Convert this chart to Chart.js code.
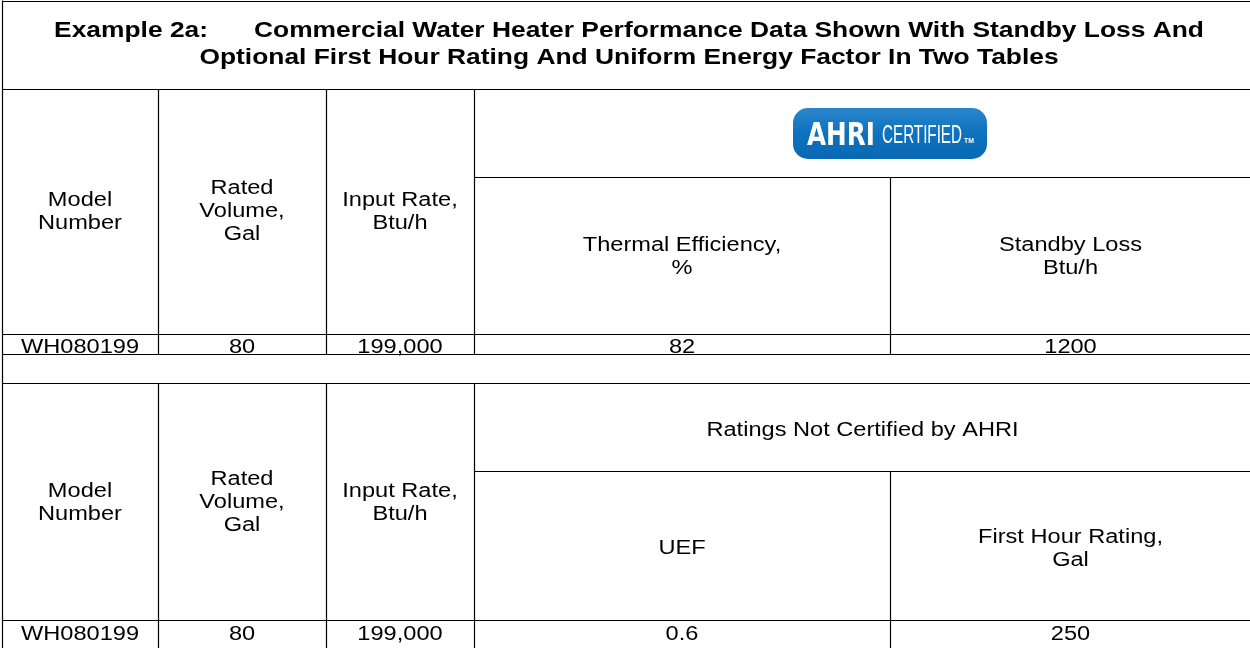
<!DOCTYPE html>
<html>
<head>
<meta charset="utf-8">
<script src="https://cdn.jsdelivr.net/npm/chart.js@4.4.1/dist/chart.umd.min.js"></script>
<style>
  html, body { margin: 0; padding: 0; background: #fff; }
  #wrap { width: 1250px; height: 648px; }
</style>
</head>
<body>
<div id="wrap"><canvas id="c" width="1250" height="648"></canvas></div>
<script>
// ---------- DATA ----------
const titleLabel = 'Example 2a:';
const titleLines = [
  'Commercial Water Heater Performance Data Shown With Standby Loss And',
  'Optional First Hour Rating And Uniform Energy Factor In Two Tables'
];
const commonHeaders = [['Model', 'Number'], ['Rated', 'Volume,', 'Gal'], ['Input Rate,', 'Btu/h']];
const table1Group = 'AHRI CERTIFIED';
const table1Headers = [['Thermal Efficiency,', '%'], ['Standby Loss', 'Btu/h']];
const table1Row = ['WH080199', '80', '199,000', '82', '1200'];
const table2Group = 'Ratings Not Certified by AHRI';
const table2Headers = [['UEF'], ['First Hour Rating,', 'Gal']];
const table2Row = ['WH080199', '80', '199,000', '0.6', '250'];

// ---------- LAYOUT (grid in scale units) ----------
const colEdges = [2, 158, 326, 474, 890, 1251];
const Y = { top: 0.5, title: 89, sub1: 177, head1: 334, row1: 354, gap: 383, sub2: 471, head2: 620, end: 660 };

const FONT = '"Liberation Sans", Arial, sans-serif';
const SX = 1.21;          // horizontal stretch of text
const BODY = 19.5, LH = 23;
const TITLE = 21.8, TLH = 27.5, TAB = 46;

function setFont(ctx, size, bold) { ctx.font = (bold ? 'bold ' : '') + size + 'px ' + FONT; }
function txt(ctx, s, x, cy, size, bold, sx, align) {
  ctx.save();
  setFont(ctx, size, bold);
  ctx.textAlign = align || 'center';
  ctx.textBaseline = 'alphabetic';
  ctx.fillStyle = '#000';
  ctx.translate(x, cy + size * 0.716 / 2);
  ctx.scale(sx, 1);
  ctx.fillText(s, 0, 0);
  ctx.restore();
}
function width(ctx, s, size, bold, sx) {
  ctx.save(); setFont(ctx, size, bold); const w = ctx.measureText(s).width * sx; ctx.restore(); return w;
}
function block(ctx, lines, x, cy, size, lh, bold, sx) {
  const n = lines.length;
  lines.forEach((l, i) => txt(ctx, l, x, cy + (i - (n - 1) / 2) * lh, size, bold, sx));
}

const tablePlugin = {
  id: 'tablePlugin',
  afterDraw(chart) {
    const ctx = chart.ctx;
    const xs = chart.scales.x, ys = chart.scales.y;
    const X = v => xs.getPixelForValue(v);
    const YY = v => ys.getPixelForValue(v);
    const px = v => Math.round(X(v)) + 0.5;
    const py = v => Math.round(YY(v)) + 0.5;
    const span = (a, b) => (X(colEdges[a]) + X(colEdges[b])) / 2;
    const cx = i => span(i, i + 1);
    const cy = (a, b) => (YY(a) + YY(b)) / 2;
    const L = colEdges[0], R = colEdges[colEdges.length - 1];

    ctx.save();
    ctx.strokeStyle = '#000';
    ctx.lineWidth = 1.2;
    const h = (y, x0, x1) => { ctx.beginPath(); ctx.moveTo(X(x0), py(y)); ctx.lineTo(X(x1), py(y)); ctx.stroke(); };
    const v = (x, y0, y1) => { ctx.beginPath(); ctx.moveTo(px(x), YY(y0)); ctx.lineTo(px(x), YY(y1)); ctx.stroke(); };

    h(Y.top, L, R); h(Y.title, L, R); h(Y.head1, L, R); h(Y.row1, L, R); h(Y.gap, L, R); h(Y.head2, L, R);
    h(Y.sub1, colEdges[3], R); h(Y.sub2, colEdges[3], R);
    v(L, Y.top, Y.end); v(R, Y.top, Y.end);
    [1, 2, 3].forEach(i => { v(colEdges[i], Y.title, Y.row1); v(colEdges[i], Y.gap, Y.end); });
    v(colEdges[4], Y.sub1, Y.row1); v(colEdges[4], Y.sub2, Y.end);
    ctx.restore();

    // title
    const mid = span(0, 5) + 2.5;
    const wl = width(ctx, titleLabel, TITLE, true, SX);
    const wr = width(ctx, titleLines[0], TITLE, true, SX);
    const x0 = mid - (wl + TAB + wr) / 2;
    txt(ctx, titleLabel, x0, YY(29), TITLE, true, SX, 'left');
    txt(ctx, titleLines[0], x0 + wl + TAB, YY(29), TITLE, true, SX, 'left');
    txt(ctx, titleLines[1], mid, YY(29 + TLH), TITLE, true, SX);

    // table 1
    commonHeaders.forEach((lines, i) => block(ctx, lines, cx(i), cy(Y.title, Y.head1) - 1, BODY, LH, false, SX));
    table1Headers.forEach((lines, i) => block(ctx, lines, cx(i + 3), cy(Y.sub1, Y.head1), BODY, LH, false, SX));
    table1Row.forEach((s, i) => txt(ctx, s, cx(i), YY(Y.head1 + 12.5), BODY, false, SX));
    drawLogo(ctx, X(colEdges[4]), cy(Y.title, Y.sub1) + 0.5);

    // table 2
    commonHeaders.forEach((lines, i) => block(ctx, lines, cx(i), cy(Y.gap, Y.head2), BODY, LH, false, SX));
    txt(ctx, table2Group, span(3, 5), cy(Y.gap, Y.sub2) + 2, BODY, false, SX);
    table2Headers.forEach((lines, i) => block(ctx, lines, cx(i + 3), cy(Y.sub2, Y.head2) + 2, BODY, LH, false, SX));
    table2Row.forEach((s, i) => txt(ctx, s, cx(i), YY(Y.head2 + 13), BODY, false, SX));
  }
};

function fitText(ctx, s, x, baseline, font, w) {
  ctx.save();
  ctx.font = font;
  const m = ctx.measureText(s).width;
  ctx.translate(x, baseline);
  ctx.scale(w / m, 1);
  ctx.textAlign = 'left';
  ctx.fillText(s, 0, 0);
  ctx.restore();
}

function drawLogo(ctx, cx, cy) {
  const w = 194, hgt = 51, r = 15;
  const x0 = cx - w / 2, y0 = cy - hgt / 2;
  ctx.save();
  const g = ctx.createLinearGradient(0, y0, 0, y0 + hgt);
  g.addColorStop(0, '#2a86cc');
  g.addColorStop(0.5, '#0d72bf');
  g.addColorStop(1, '#0a68b2');
  ctx.fillStyle = g;
  ctx.beginPath();
  ctx.roundRect(x0, y0, w, hgt, r);
  ctx.fill();
  ctx.fillStyle = '#fff';
  const parts = table1Group.split(' ');
  fitText(ctx, parts[0], x0 + 14, cy + 11, 'bold 32px "DejaVu Sans", sans-serif', 68);
  fitText(ctx, parts[1], x0 + 89, cy + 9, '25px "Liberation Sans", sans-serif', 80);
  fitText(ctx, 'TM', x0 + 171, cy + 9, 'bold 7px "Liberation Sans", sans-serif', 10);
  ctx.restore();
}

new Chart(document.getElementById('c'), {
  type: 'scatter',
  data: { datasets: [{ data: [], pointRadius: 0 }] },
  options: {
    responsive: false,
    animation: false,
    devicePixelRatio: 1,
    layout: { padding: 0 },
    plugins: { legend: { display: false }, tooltip: { enabled: false } },
    scales: {
      x: { type: 'linear', min: 0, max: 1250, display: false },
      y: { type: 'linear', min: 0, max: 648, reverse: true, display: false }
    }
  },
  plugins: [tablePlugin]
});
</script>
</body>
</html>
